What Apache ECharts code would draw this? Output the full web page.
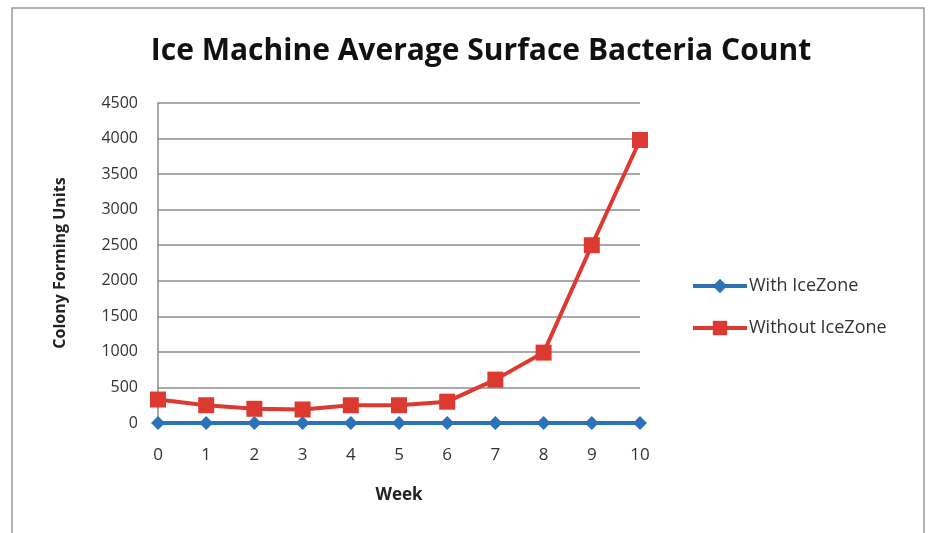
<!DOCTYPE html>
<html>
<head>
<meta charset="utf-8">
<script src="https://cdn.jsdelivr.net/npm/echarts@6/dist/echarts.min.js"></script>
<style>
  html, body { margin: 0; padding: 0; background: #fff; }
  #main { width: 936px; height: 533px; }
</style>
</head>
<body>
<div id="main"></div>
<script>
var weeks = ['0', '1', '2', '3', '4', '5', '6', '7', '8', '9', '10'];
var withIceZone = [0, 0, 0, 0, 0, 0, 0, 0, 0, 0, 0];
var withoutIceZone = [330, 250, 200, 190, 250, 250, 300, 610, 990, 2500, 3980];

var blue = '#2b72b8';
var red = '#dc3a30';
var font = 'Open Sans';

var myChart = echarts.init(document.getElementById('main'));

var option = {
    backgroundColor: '#fff',
    title: {
        text: 'Ice Machine Average Surface Bacteria Count',
        left: 476,
        textAlign: 'center',
        top: 31,
        textStyle: { fontFamily: font, fontSize: 30, fontWeight: 'bold', color: '#111' }
    },
    graphic: [{
        type: 'rect',
        shape: { x: 12, y: 8, width: 912, height: 540 },
        style: { fill: 'none', stroke: '#9a9a9a', lineWidth: 1.5 },
        silent: true
    }],
    legend: {
        orient: 'vertical',
        left: 686,
        top: 272,
        itemWidth: 54,
        itemHeight: 18,
        itemGap: 24,
        lineStyle: { width: 4 },
        textStyle: { fontFamily: font, fontSize: 18, color: '#333', padding: [0, 0, 0, -3] },
        data: ['With IceZone', 'Without IceZone']
    },
    grid: { left: 158, right: 296, top: 103, bottom: 110 },
    xAxis: {
        type: 'category',
        boundaryGap: false,
        data: weeks,
        name: 'Week',
        nameLocation: 'middle',
        nameGap: 64,
        nameTextStyle: { fontFamily: font, fontSize: 17, fontWeight: 'bold', color: '#222' },
        axisLine: { lineStyle: { color: '#888', width: 1.5 } },
        axisTick: { show: false },
        axisLabel: { fontFamily: font, fontSize: 17, color: '#333', margin: 24 }
    },
    yAxis: {
        type: 'value',
        min: 0,
        max: 4500,
        interval: 500,
        name: 'Colony Forming Units',
        nameLocation: 'middle',
        nameGap: 90,
        nameTextStyle: { fontFamily: font, fontSize: 16, fontWeight: 'bold', color: '#222' },
        axisLine: { show: true, lineStyle: { color: '#888', width: 1.5 } },
        axisTick: { show: false },
        axisLabel: {
            fontFamily: font, fontSize: 16, color: '#333', margin: 20,
            formatter: function (v) { return String(v); }
        },
        splitLine: { lineStyle: { color: '#8c8c8c', width: 1.5 } }
    },
    series: [{
        name: 'With IceZone',
        type: 'line',
        data: withIceZone,
        symbol: 'diamond',
        symbolSize: 14,
        lineStyle: { color: blue, width: 4 },
        itemStyle: { color: blue }
    }, {
        name: 'Without IceZone',
        type: 'line',
        data: withoutIceZone,
        symbol: 'rect',
        symbolSize: 16,
        lineStyle: { color: red, width: 4 },
        itemStyle: { color: red }
    }]
};

myChart.setOption(option);
</script>
</body>
</html>
